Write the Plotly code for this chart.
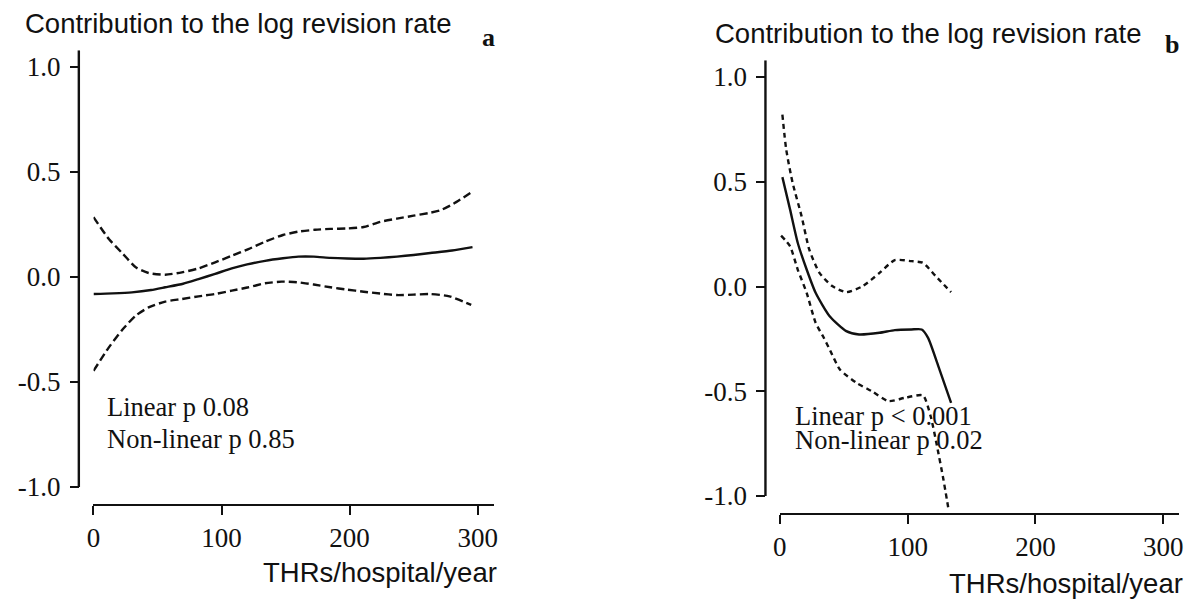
import plotly.graph_objects as go

# ---------------- data ----------------
# Panel a
a_fit_x = [0, 15, 30, 45, 56, 70, 82, 95, 108, 120, 134, 148, 160, 172, 185, 198, 211, 224, 237, 250, 263, 280, 296]
a_fit_y = [-0.081, -0.078, -0.073, -0.062, -0.049, -0.032, -0.010, 0.015, 0.041, 0.060, 0.077, 0.089, 0.097, 0.097,
           0.091, 0.088, 0.087, 0.091, 0.097, 0.105, 0.114, 0.126, 0.142]
a_up_x = [0, 12, 23, 33, 43, 56, 69, 82, 95, 108, 121, 134, 148, 160, 173, 185, 198, 211, 224, 237, 250, 262, 271, 281, 295]
a_up_y = [0.285, 0.181, 0.110, 0.046, 0.019, 0.011, 0.022, 0.041, 0.070, 0.101, 0.133, 0.168, 0.200, 0.216, 0.225,
          0.229, 0.231, 0.238, 0.263, 0.278, 0.292, 0.305, 0.318, 0.348, 0.403]
a_lo_x = [0, 12, 23, 33, 43, 56, 69, 82, 95, 108, 121, 134, 147, 159, 172, 185, 198, 211, 224, 237, 250, 263, 278, 295]
a_lo_y = [-0.447, -0.335, -0.248, -0.184, -0.145, -0.117, -0.105, -0.092, -0.081, -0.065, -0.049, -0.030, -0.022,
          -0.025, -0.036, -0.049, -0.060, -0.070, -0.079, -0.086, -0.084, -0.081, -0.092, -0.133]

# Panel b
b_fit_x = [2, 8, 14, 21, 28, 39, 52, 62, 78, 90, 103, 111, 116, 124, 134]
b_fit_y = [0.522, 0.368, 0.209, 0.081, -0.030, -0.142, -0.213, -0.229, -0.221, -0.208, -0.205, -0.205, -0.245,
           -0.380, -0.555]
b_up_x = [2, 5, 10, 17, 23, 31, 41, 52, 65, 78, 90, 103, 112, 122, 134]
b_up_y = [0.820, 0.654, 0.495, 0.336, 0.177, 0.065, 0.002, -0.027, 0.002, 0.065, 0.126, 0.121, 0.113, 0.049, -0.027]
b_lo_x = [1, 8, 14, 21, 28, 34, 39, 47, 60, 72, 85, 98, 112, 118, 123, 128, 132]
b_lo_y = [0.243, 0.192, 0.081, -0.030, -0.173, -0.240, -0.300, -0.396, -0.460, -0.500, -0.547, -0.531, -0.520,
          -0.619, -0.762, -0.921, -1.064]

x_ticks = [0, 100, 200, 300]
y_ticks = [-1.0, -0.5, 0.0, 0.5, 1.0]
y_tick_text = ["-1.0", "-0.5", "0.0", "0.5", "1.0"]
y_title = "Contribution to the log revision rate"
x_title = "THRs/hospital/year"
a_notes = ["Linear p 0.08", "Non-linear p 0.85"]
b_notes = ["Linear p < 0.001", "Non-linear p 0.02"]

# ---------------- layout helpers ----------------
W, H = 1195, 599
def px(x):
    return x / W
def py(y):
    return 1 - y / H

SERIF = "Liberation Serif, Times New Roman, serif"
SANS = "Liberation Sans, Arial, sans-serif"
INK = "#111111"

fig = go.Figure()

def add_curves(xs, ys, xa, ya, dash):
    fig.add_trace(go.Scatter(x=xs, y=ys, mode="lines", xaxis=xa, yaxis=ya,
                             line=dict(color=INK, width=2.4, dash=dash, shape="spline", smoothing=0.6),
                             showlegend=False, hoverinfo="skip"))

add_curves(a_up_x, a_up_y, "x", "y", "8px,4px")
add_curves(a_lo_x, a_lo_y, "x", "y", "8px,4px")
add_curves(a_fit_x, a_fit_y, "x", "y", "solid")
add_curves(b_up_x, b_up_y, "x2", "y2", "5px,4px")
add_curves(b_lo_x, b_lo_y, "x2", "y2", "5px,4px")
add_curves(b_fit_x, b_fit_y, "x2", "y2", "solid")

# pixel geometry of both panels
panels = [
    dict(xd=(87.3, 491.8), xr=(0, 313), yd=(503.8, 50.2), yax=72.5, xa="xaxis", ya="yaxis", yref="y"),
    dict(xd=(780.0, 1183.0), xr=(0, 312.4), yd=(512.8, 60.2), yax=765.5, xa="xaxis2", ya="yaxis2", yref="y2"),
]

tickfont = dict(family=SERIF, size=27, color=INK)
layout = dict(width=W, height=H, margin=dict(l=0, r=0, t=0, b=0),
              paper_bgcolor="white", plot_bgcolor="white", showlegend=False)

shapes = []
for i, p in enumerate(panels):
    ya_name = "y" if i == 0 else "y2"
    layout[p["xa"]] = dict(domain=[px(p["xd"][0]), px(p["xd"][1])], range=list(p["xr"]), anchor=ya_name,
                           showgrid=False, zeroline=False, showline=True, linecolor=INK, linewidth=2.4,
                           ticks="outside", ticklen=9, tickwidth=2, tickcolor=INK,
                           tickvals=x_ticks, ticktext=[str(v) for v in x_ticks], tickfont=tickfont)
    layout[p["ya"]] = dict(domain=[py(p["yd"][0]), py(p["yd"][1])], range=[-1.08, 1.08],
                           anchor="free", position=px(p["yax"]),
                           showgrid=False, zeroline=False, showline=False,
                           ticks="outside", ticklen=9, tickwidth=2, tickcolor=INK,
                           ticklabelstandoff=4,
                           tickvals=y_ticks, ticktext=y_tick_text, tickfont=tickfont)
    shapes.append(dict(type="line", xref="paper", yref=p["yref"], x0=px(p["yax"]), x1=px(p["yax"]),
                       y0=-1.0, y1=1.08, line=dict(color=INK, width=2.4)))
layout["shapes"] = shapes

def ann(text, x, y, family, size, xanchor="left", bold=False):
    t = f"<b>{text}</b>" if bold else text
    return dict(text=t, x=px(x), y=py(y), xref="paper", yref="paper", xanchor=xanchor, yanchor="middle",
                showarrow=False, font=dict(family=family, size=size, color=INK))

layout["annotations"] = [
    ann(y_title, 16, 24, SANS, 27.5),
    ann("a", 486, 38, SERIF, 26, xanchor="center", bold=True),
    ann(y_title, 713, 33, SANS, 27.5),
    ann("b", 1176, 44, SERIF, 26, xanchor="center", bold=True),
    ann(a_notes[0], 99, 407, SERIF, 26.5),
    ann(a_notes[1], 99, 439, SERIF, 26.5),
    ann(b_notes[0], 793, 416, SERIF, 26.5),
    ann(b_notes[1], 793, 440, SERIF, 26.5),
    ann(x_title, 497, 572, SANS, 27.5, xanchor="right"),
    ann(x_title, 1189, 583, SANS, 27.5, xanchor="right"),
]

fig.update_layout(**layout)
fig.write_html("out.html", config={"displayModeBar": False},
               post_script="document.body.style.margin='0';document.body.style.overflow='hidden';")
